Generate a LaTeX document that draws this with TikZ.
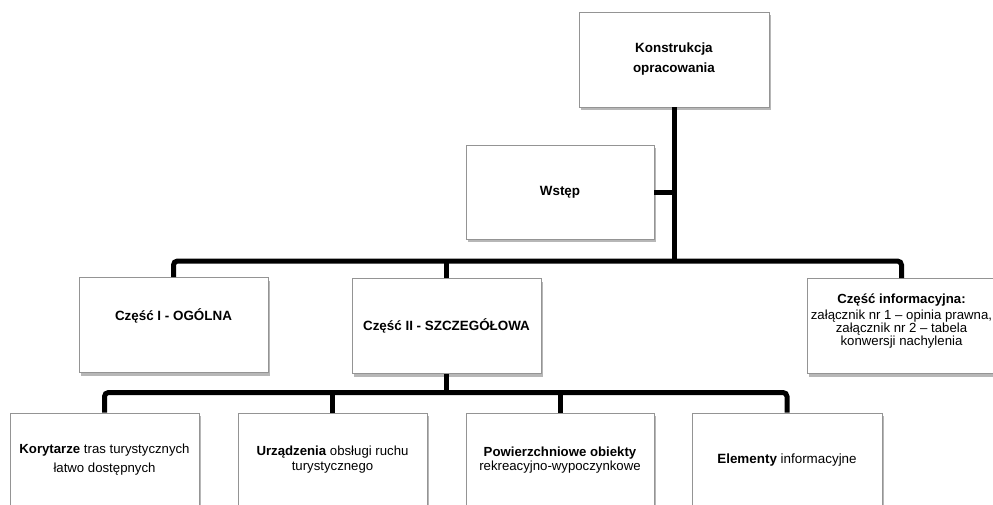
\documentclass[tikz,border=0pt]{standalone}
\usepackage{fontspec}
\setmainfont{Liberation Sans}
\usetikzlibrary{shadows}
\begin{document}
\begin{tikzpicture}[x=1pt,y=-1pt,
  box/.style={draw=black!42, line width=0.8pt, fill=white, minimum width=189pt, minimum height=95pt, inner sep=0pt,
    drop shadow={shadow xshift=1.5pt, shadow yshift=-3pt, opacity=0.4, fill=black!70}},
  lbl/.style={align=center, inner sep=0pt, font=\fontsize{13.4}{20}\selectfont},
  conn/.style={line width=5pt, rounded corners=4pt}]
\useasboundingbox (0,0) rectangle (993,504);
% boxes
\node[box, minimum width=190pt] (top) at (674,59.5) {};
\node[box, minimum width=188pt, minimum height=94pt] (wstep) at (560,192) {};
\node[box] (p1) at (173.5,325) {};
\node[box] (p2) at (446.5,326) {};
\node[box] (info) at (901.5,326) {};
\node[box] (k1) at (104.5,460.5) {};
\node[box] (k2) at (332.5,460.5) {};
\node[box, minimum width=188pt] (k3) at (560,460.5) {};
\node[box, minimum width=190pt] (k4) at (787,460.5) {};
% labels
\node[lbl] (ttop) at (top.center) {\textbf{Konstrukcja}\\\textbf{opracowania}};
\node[lbl] (twstep) at (wstep.center) {\textbf{Wstęp}};
\node[lbl] (tp1) at ([yshift=9pt]p1.center) {\textbf{Część I - OGÓLNA}};
\node[lbl] (tp2) at (p2.center) {\textbf{Część II - SZCZEGÓŁOWA}};
\node[lbl, font=\fontsize{13.2}{12}\selectfont] (tinfo) at ([yshift=5pt]info.center) {\textbf{Część informacyjna:}\\[3pt]załącznik nr 1 – opinia prawna,\\załącznik nr 2 – tabela\\konwersji nachylenia};
\node[lbl, font=\fontsize{13.2}{19}\selectfont] (tk1) at ([yshift=1pt]k1.center) {\textbf{Korytarze} tras turystycznych\\łatwo dostępnych};
\node[lbl, font=\fontsize{13.2}{15}\selectfont] (tk2) at ([yshift=1pt]k2.center) {\textbf{Urządzenia} obsługi ruchu\\turystycznego};
\node[lbl, font=\fontsize{13.2}{14}\selectfont] (tk3) at (k3.center) {\textbf{Powierzchniowe obiekty}\\rekreacyjno-wypoczynkowe};
\node[lbl] (tk4) at (k4.center) {\textbf{Elementy} informacyjne};
% connectors
\coordinate (b1) at (446.5,261);
\coordinate (b2) at (446.5,392.5);
\draw[conn] (top.south) -- (top.south |- b1);
\draw[conn] (wstep.east) -- ([xshift=2pt]wstep.east -| top.south);
\draw[conn] (p1.north) |- (b1) -| (info.north);
\draw[conn] (p2.north) -- (b1);
\draw[conn] (p2.south) -- (b2);
\draw[conn] (k1.north) |- (b2) -| (k4.north);
\draw[conn] (k2.north) -- (k2.north |- b2);
\draw[conn] (k3.north) -- (k3.north |- b2);
\end{tikzpicture}
\end{document}
